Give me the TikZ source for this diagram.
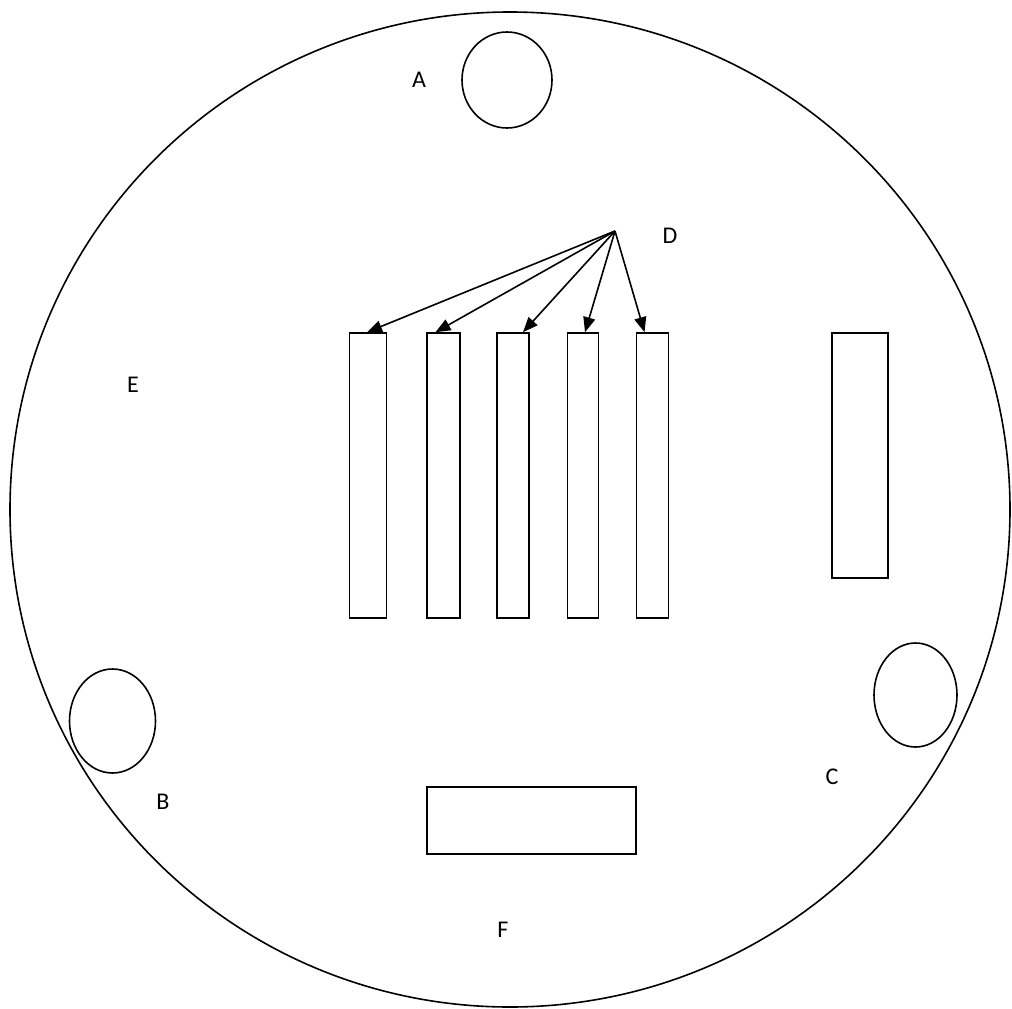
\documentclass[tikz,border=0pt]{standalone}
\usepackage{fontspec}
\setmainfont{Carlito}
\usetikzlibrary{arrows.meta,shapes.geometric,calc}
\begin{document}
\begin{tikzpicture}[x=1pt,y=-1pt,
  line width=1.6pt,
  box/.style={draw,rectangle,inner sep=0pt,line width=1.6pt},
  hole/.style={draw,ellipse,inner sep=0pt,line width=1.6pt},
  lbl/.style={font=\fontsize{24}{28}\selectfont,inner sep=0pt},
  arr/.style={-{Triangle[length=15pt,width=12pt]},line width=1.6pt}]
\useasboundingbox (0,0) rectangle (1012,1009);
% outer disc
\draw (510,509.5) ellipse [x radius=500, y radius=497.5];
% holes
\node[hole,minimum width=90pt,minimum height=96pt] (A) at (507,80) {};
\node[hole,minimum width=86pt,minimum height=104pt] (B) at (112.5,721) {};
\node[hole,minimum width=83pt,minimum height=104pt] (C) at (915.5,695) {};
% slot rectangles
\node[box,minimum width=37pt,minimum height=285pt] (r1) at (368,475.5) {};
\node[box,minimum width=33pt,minimum height=285pt] (r2) at (443.5,475.5) {};
\node[box,minimum width=32pt,minimum height=285pt] (r3) at (513,475.5) {};
\node[box,minimum width=31pt,minimum height=285pt] (r4) at (583,475.5) {};
\node[box,minimum width=32pt,minimum height=285pt] (r5) at (652.5,475.5) {};
\node[box,minimum width=56pt,minimum height=245pt] (rr) at (860,455.5) {};
\node[box,minimum width=209pt,minimum height=67pt] (rf) at (531.5,820.5) {};
% labels
\node[lbl] (lA) at (419,80) {A};
\node[lbl] (lB) at (163,802) {B};
\node[lbl] (lC) at (832,777) {C};
\node[lbl] (lD) at (670,236) {D};
\node[lbl] (lE) at (133,385) {E};
\node[lbl] (lF) at (503,930) {F};
% arrows from D point
\coordinate (dp) at (615,231);
\draw[arr] (dp) -- ($(r1.north)+(-1,0)$);
\draw[arr] (dp) -- ($(r2.north)+(-8,0)$);
\draw[arr] (dp) -- ($(r3.north)+(10,0)$);
\draw[arr] (dp) -- ($(r4.north)+(2,0)$);
\draw[arr] (dp) -- ($(r5.north)+(-8,0)$);
\end{tikzpicture}
\end{document}
